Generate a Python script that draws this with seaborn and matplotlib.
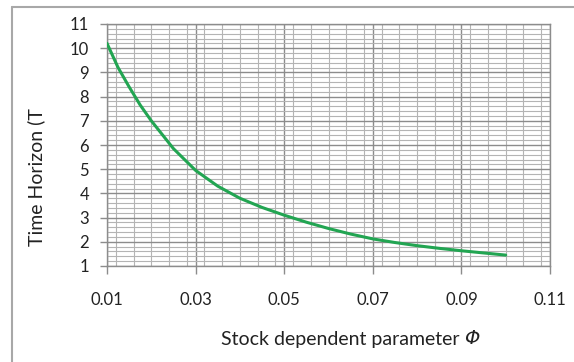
import matplotlib
matplotlib.use("Agg")
import matplotlib.pyplot as plt
from matplotlib.lines import Line2D
from matplotlib.ticker import MultipleLocator
import pandas as pd
import seaborn as sns

# Stock dependent parameter (phi) and resulting time horizon T
phi = [0.01, 0.0125, 0.015, 0.0175, 0.02, 0.025, 0.03, 0.035, 0.04,
       0.045, 0.05, 0.055, 0.06, 0.065, 0.07, 0.075, 0.08, 0.085,
       0.09, 0.095, 0.10]
horizon = [10.2, 9.2, 8.4, 7.65, 7.0, 5.85, 4.95, 4.3, 3.8,
           3.42, 3.1, 2.81, 2.55, 2.32, 2.12, 1.97, 1.84, 1.73,
           1.63, 1.54, 1.45]

x_ticks = [0.01, 0.03, 0.05, 0.07, 0.09, 0.11]
x_tick_labels = ["0.01", "0.03", "0.05", "0.07", "0.09", "0.11"]
y_ticks = list(range(1, 12))

df = pd.DataFrame({"phi": phi, "T": horizon})

sns.set_theme(style="white")
plt.rcParams["font.family"] = ["Lato", "DejaVu Sans"]

fig = plt.figure(figsize=(5.74, 3.62), dpi=100)
ax = fig.add_axes([107 / 574, 1 - 266 / 362, 443 / 574, 242 / 362])

grid_minor = "#b4b4b4"
grid_major = "#8c8c8c"
text_color = "#222222"

ax.set_xlim(0.01, 0.11)
ax.set_ylim(1, 11)
ax.xaxis.set_major_locator(MultipleLocator(0.02))
ax.xaxis.set_minor_locator(MultipleLocator(0.004))
ax.yaxis.set_major_locator(MultipleLocator(1))
ax.yaxis.set_minor_locator(MultipleLocator(0.2))
ax.grid(which="minor", color=grid_minor, linewidth=0.8)
ax.grid(which="major", color=grid_major, linewidth=1.0)
ax.set_axisbelow(True)

sns.lineplot(data=df, x="phi", y="T", ax=ax, color="#22a552",
             linewidth=2.2, zorder=3)

ax.set_xticks(x_ticks)
ax.set_xticklabels(x_tick_labels)
ax.set_yticks(y_ticks)
ax.tick_params(axis="x", which="major", direction="out", length=6,
               width=1, color=grid_major, pad=13, labelsize=12,
               labelcolor=text_color, bottom=True)
ax.tick_params(axis="y", which="major", direction="out", length=5,
               width=1, color=grid_major, pad=8, labelsize=12,
               labelcolor=text_color, left=True)
ax.tick_params(which="minor", length=0)

for sp in ax.spines.values():
    sp.set_color(grid_major)
    sp.set_linewidth(1.0)

ax.set_xlabel("")
ax.set_ylabel("")

# x-axis title: plain words followed by an italic Phi
title_size = 14
renderer = fig.canvas.get_renderer()
words = fig.text(0, 0, "Stock dependent parameter ", fontsize=title_size,
                 color=text_color, va="center")
symbol = fig.text(0, 0, "Φ", fontsize=title_size, color=text_color,
                  va="center", style="italic", family=["DejaVu Sans"])
w_words = words.get_window_extent(renderer).width
w_symbol = symbol.get_window_extent(renderer).width
start = 350 - (w_words + w_symbol) / 2
y_title = 1 - 339 / 362
words.set_position((start / 574, y_title))
symbol.set_position(((start + w_words) / 574, y_title))

fig.text(36 / 574, 1 - 177 / 362, "Time Horizon (T",
         ha="center", va="center", rotation=90, fontsize=title_size,
         color=text_color)

# chart-area frame
frame_kw = dict(color="#a8a8a8", linewidth=1.5, transform=fig.transFigure)
fig.add_artist(Line2D([12 / 574, 12 / 574], [0, 1 - 7 / 362], **frame_kw))
fig.add_artist(Line2D([12 / 574, 1], [1 - 7 / 362, 1 - 7 / 362], **frame_kw))

fig.savefig("out.png", dpi=100)
